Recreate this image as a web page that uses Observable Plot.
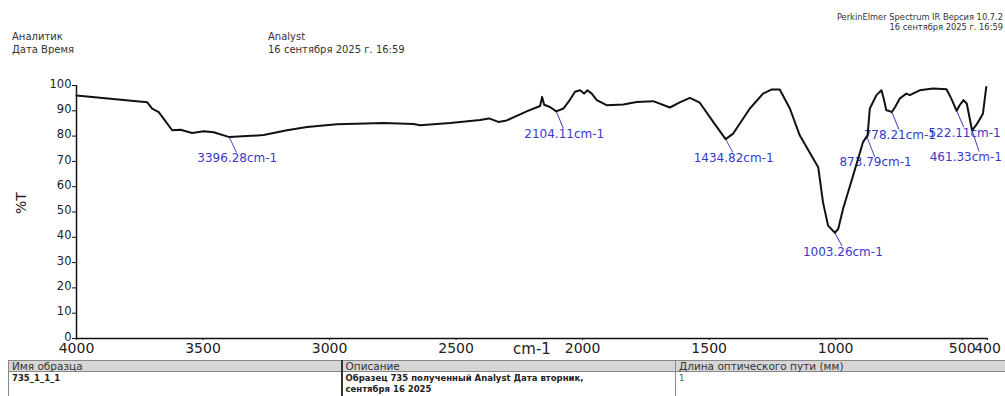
<!DOCTYPE html>
<html><head><meta charset="utf-8">
<script src="https://cdn.jsdelivr.net/npm/d3@7"></script>
<script src="https://cdn.jsdelivr.net/npm/@observablehq/plot@0.6"></script>
<style>
html,body{margin:0;padding:0;background:#fff;}
#page{position:relative;width:1005px;height:396px;overflow:hidden;font-family:"DejaVu Sans",sans-serif;background:#fff;}
.h{position:absolute;white-space:nowrap;color:#333;line-height:12px;}
.r{text-align:right;}
#chart{position:absolute;left:0;top:62px;}
table{position:absolute;left:8px;top:360px;border-collapse:collapse;width:1010px;table-layout:fixed;font-family:"DejaVu Sans",sans-serif;}
th{background:#d6d6d6;font-weight:normal;text-align:left;font-size:10.5px;color:#333;height:10px;line-height:10px;padding:0 3px;border:1px solid #888;}
td{font-size:8.5px;font-weight:bold;color:#222;vertical-align:top;padding:1px 3px;line-height:11px;border-left:1px solid #888;border-right:1px solid #888;white-space:nowrap;}
td.n{font-weight:normal;color:#555;}
.c1{border-right:2px solid #333 !important;}
</style>
</head><body>
<div id="page">
  <div id="hdr"></div>
  <div id="chart"></div>
  <div id="tbl"></div>
</div>
<script>
// ---- header / table text ----
const headerLeftLabels = ["Аналитик", "Дата Время"];
const headerLeftValues = ["Analyst", "16 сентября 2025 г. 16:59"];
const headerRight = ["PerkinElmer Spectrum IR Версия 10.7.2", "16 сентября 2025 г. 16:59"];
const tableHeaders = ["Имя образца", "Описание", "Длина оптического пути (мм)"];
const tableName = "735_1_1_1";
const tableDescription = ["Образец 735 полученный Analyst Дата вторник,", "сентября 16 2025"];
const tablePath = "1";

// ---- spectrum data (wavenumber cm-1, %T) ----
const wavenumber = [4000, 3721, 3701, 3675, 3622, 3589, 3543, 3497, 3458, 3396, 3261, 3168, 3089, 2971,
  2787, 2668, 2642, 2523, 2405, 2370, 2333, 2300, 2221, 2168, 2160, 2152, 2129, 2104, 2076, 2056, 2030,
  2010, 1994, 1981, 1964, 1944, 1905, 1839, 1786, 1721, 1655, 1616, 1576, 1537, 1484, 1435, 1405, 1339,
  1287, 1254, 1221, 1181, 1142, 1089, 1069, 1050, 1030, 1003, 990, 971, 931, 892, 874, 865, 839, 819,
  810, 800, 790, 778, 765, 747, 721, 707, 668, 615, 562, 543, 522, 510, 495, 482, 461, 445, 425, 418, 405];
const transmittance = [96.0, 93.4, 90.9, 89.5, 82.3, 82.5, 81.2, 81.9, 81.5, 79.6, 80.4, 82.3, 83.6, 84.7,
  85.2, 84.8, 84.3, 85.2, 86.4, 87.0, 85.6, 86.2, 89.8, 91.9, 95.5, 92.4, 91.5, 89.8, 90.9, 93.5, 97.5,
  98.1, 96.8, 98.1, 96.8, 94.2, 92.2, 92.5, 93.5, 93.8, 91.3, 93.3, 95.1, 93.2, 85.6, 78.8, 81.0, 90.9,
  96.8, 98.4, 98.4, 90.9, 80.3, 71.1, 67.7, 53.8, 44.6, 41.8, 43.3, 51.2, 64.4, 77.6, 80.3, 90.9, 96.2, 98.1,
  94.8, 90.2, 90.0, 89.5, 91.5, 94.8, 96.8, 96.2, 98.1, 98.8, 98.5, 94.8, 90.0, 92.2, 94.2, 92.9, 82.3, 84.3, 87.6, 88.9, 99.4];

// ---- peak annotations ----
const peakWavenumber = [3396.28, 2104.11, 1434.82, 1003.26, 873.79, 778.21, 522.11, 461.33];
const peakTransmittance = [79.6, 89.8, 78.8, 41.8, 79.0, 89.5, 90.0, 82.3];

// ---- axes ----
const xTicks = [4000, 3500, 3000, 2500, 2000, 1500, 1000, 500, 400];
const yTicks = [0, 10, 20, 30, 40, 50, 60, 70, 80, 90, 100];
const xLabel = "cm-1";
const yLabel = "%T";

// header
const hdr = document.getElementById("hdr");
function addH(text, pos, top, size) {
  const d = document.createElement("div");
  d.className = "h" + (pos.right != null ? " r" : ""); d.textContent = text;
  if (pos.left != null) d.style.left = pos.left + "px";
  if (pos.right != null) d.style.right = pos.right + "px";
  d.style.top = top + "px"; d.style.fontSize = size + "px";
  hdr.appendChild(d);
}
headerLeftLabels.forEach((t, i) => addH(t, {left: 12}, 31 + i * 13, 10));
headerLeftValues.forEach((t, i) => addH(t, {left: 268}, 31 + i * 13, 10));
addH(headerRight[0], {right: 2}, 11, 8.3);
addH(headerRight[1], {right: 2}, 21, 8.3);

// table
const tbl = document.createElement("table");
tbl.innerHTML = `<colgroup><col style="width:333px"><col style="width:334px"><col></colgroup>
<tr><th class="c1">${tableHeaders[0]}</th><th>${tableHeaders[1]}</th><th>${tableHeaders[2]}</th></tr>
<tr><td class="c1">${tableName}</td><td>${tableDescription.join("<br>")}</td><td class="n">${tablePath}</td></tr>`;
document.getElementById("tbl").appendChild(tbl);

// chart
const spectrum = wavenumber.map((w, i) => ({w, t: transmittance[i]}));
const peaks = peakWavenumber.map((w, i) => ({w, t: peakTransmittance[i], label: w.toFixed(2) + "cm-1"}));
const labelDy = [21, 23, 19, 19, 24, 23, 22, 27];
const blue = "#3838cc";
const noHead = {draw(ctx, l) { ctx.moveTo(0, 0); ctx.lineTo(0, -l); }};

const peakMarks = peaks.flatMap((p, i) => {
  const dy = labelDy[i], dx = 7, L = Math.hypot(dx, dy - 6);
  const rot = 180 - Math.atan2(dx, dy - 6) * 180 / Math.PI;
  const last = i === peaks.length - 1;
  return [
    Plot.vector([p], {x: "w", y: "t", length: L, rotate: rot, anchor: "start", shape: noHead, stroke: "#4a4ab8", strokeWidth: 1}),
    last
      ? Plot.text([p], {x: "w", y: "t", text: "label", textAnchor: "end", dx: 30, dy, fill: blue, fontSize: 12, fontFamily: "DejaVu Sans"})
      : Plot.text([p], {x: "w", y: "t", text: "label", dx: dx + 1, dy, fill: blue, fontSize: 12, fontFamily: "DejaVu Sans"})
  ];
});

const chart = Plot.plot({
  width: 1005,
  height: 298,
  marginLeft: 76,
  marginRight: 18,
  marginTop: 23,
  marginBottom: 22,
  style: {fontFamily: "DejaVu Sans", color: "#222", background: "transparent"},
  x: {domain: [4000, 400]},
  y: {domain: [0, 100]},
  marks: [
    Plot.axisY({ticks: yTicks, tickSize: 4, label: null, stroke: "#111", tickFormat: () => ""}),
    Plot.axisY({ticks: yTicks, tickSize: 0, tickPadding: 5, fontSize: 11.5, dy: -1.5, label: null, tickFormat: d3.format("d")}),
    Plot.axisX({ticks: xTicks, tickSize: 2, tickPadding: 3, fontSize: 14, label: null, stroke: "#111", tickFormat: d3.format("d")}),
    Plot.ruleX([4000], {y1: 0, y2: 100, stroke: "#111", strokeWidth: 1.5}),
    Plot.ruleY([0], {x1: 4000, x2: 400, stroke: "#111", strokeWidth: 1.5}),
    Plot.text([yLabel], {frameAnchor: "left", dx: -55, dy: 2, rotate: -90, fontSize: 14, fill: "#222"}),
    Plot.text([xLabel], {frameAnchor: "bottom", dy: 15, fontSize: 15, fill: "#222"}),
    ...peakMarks,
    Plot.line(spectrum, {x: "w", y: "t", stroke: "#111", strokeWidth: 2, strokeLinejoin: "round"})
  ]
});
document.getElementById("chart").appendChild(chart);
</script>
</body></html>
